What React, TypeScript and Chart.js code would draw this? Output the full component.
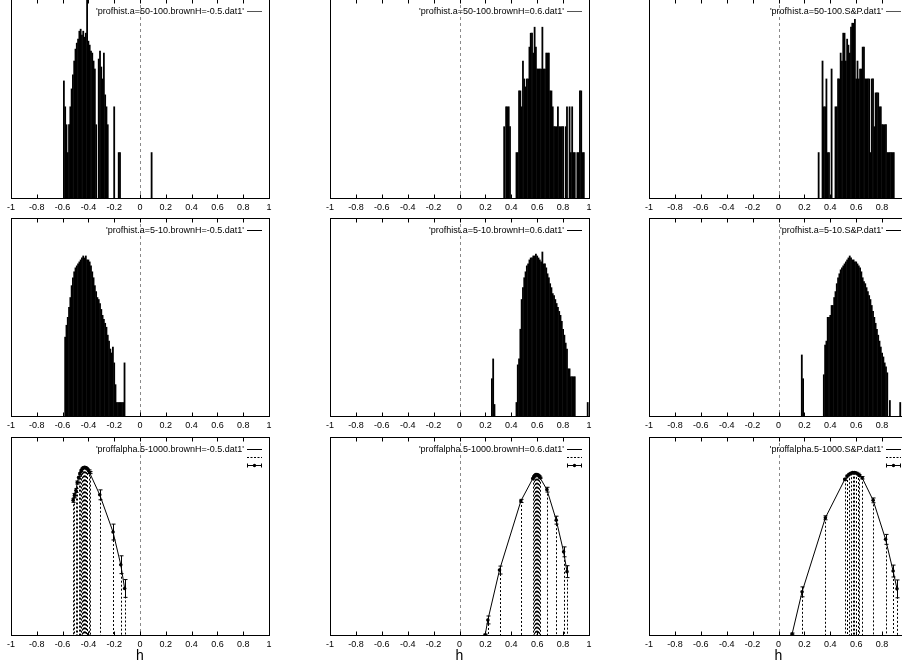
import React, { useEffect, useRef } from "react";
import { Chart, registerables } from "chart.js";

Chart.register(...registerables);

const FONT = '"Liberation Sans", Arial, Helvetica, sans-serif';

// shared x-axis ticks (h)
const hTicks = [-1, -0.8, -0.6, -0.4, -0.2, 0, 0.2, 0.4, 0.6, 0.8, 1];

// ---------- Row 1 : profhist a=50-100 ----------
const hist50NegH = [-0.59, -0.58, -0.57, -0.56, -0.55, -0.54, -0.53, -0.52, -0.51, -0.5, -0.49, -0.48, -0.47, -0.46, -0.45, -0.44, -0.43, -0.42, -0.41, -0.4, -0.39, -0.38, -0.37, -0.36, -0.35, -0.34, -0.32, -0.31, -0.3, -0.29, -0.28, -0.27, -0.26, -0.25, -0.2, -0.165, -0.155, 0.09];
const hist50NegN = [59, 46, 37, 23, 37, 46, 55, 62, 69, 75, 78, 80, 84, 85, 82, 84, 81, 83, 100, 79, 77, 74, 73, 69, 65, 37, 70, 74, 66, 60, 73, 52, 46, 37, 46, 23, 23, 23];

const hist50PosH = [0.345, 0.36, 0.37, 0.38, 0.39, 0.44, 0.45, 0.46, 0.47, 0.48, 0.49, 0.5, 0.51, 0.52, 0.53, 0.54, 0.55, 0.56, 0.57, 0.58, 0.59, 0.6, 0.61, 0.62, 0.63, 0.64, 0.65, 0.66, 0.67, 0.68, 0.69, 0.7, 0.71, 0.72, 0.73, 0.74, 0.75, 0.76, 0.77, 0.78, 0.79, 0.8, 0.82, 0.83, 0.85, 0.86, 0.87, 0.88, 0.89, 0.91, 0.92, 0.93, 0.94, 0.95, 0.96];
const hist50PosN = [36, 46, 46, 46, 36, 23, 23, 54, 54, 46, 69, 60, 56, 60, 60, 76, 83, 83, 73, 86, 76, 65, 65, 65, 65, 86, 65, 65, 73, 73, 73, 54, 54, 46, 36, 36, 36, 46, 36, 36, 36, 36, 36, 46, 46, 23, 46, 23, 23, 23, 23, 54, 54, 23, 23];

const hist50SPH = [0.31, 0.34, 0.35, 0.36, 0.37, 0.38, 0.39, 0.41, 0.44, 0.45, 0.46, 0.47, 0.48, 0.49, 0.5, 0.51, 0.52, 0.53, 0.54, 0.55, 0.56, 0.57, 0.58, 0.59, 0.6, 0.61, 0.62, 0.63, 0.64, 0.65, 0.66, 0.67, 0.68, 0.69, 0.7, 0.71, 0.72, 0.73, 0.74, 0.75, 0.76, 0.77, 0.78, 0.79, 0.8, 0.81, 0.82, 0.83, 0.84, 0.85, 0.86, 0.87, 0.88, 0.89];
const hist50SPN = [23, 69, 46, 46, 60, 23, 23, 65, 46, 46, 60, 60, 73, 69, 83, 83, 69, 80, 77, 73, 86, 88, 88, 90, 60, 69, 60, 65, 65, 76, 76, 60, 60, 60, 60, 23, 60, 60, 36, 53, 53, 53, 46, 46, 37, 37, 37, 37, 23, 23, 23, 23, 23, 23];

// ---------- Row 2 : profhist a=5-10 ----------
const hist5NegH = [-0.58, -0.57, -0.56, -0.55, -0.54, -0.53, -0.52, -0.51, -0.5, -0.49, -0.48, -0.47, -0.46, -0.45, -0.44, -0.43, -0.42, -0.41, -0.4, -0.39, -0.38, -0.37, -0.36, -0.35, -0.34, -0.33, -0.32, -0.31, -0.3, -0.29, -0.28, -0.27, -0.26, -0.25, -0.24, -0.23, -0.22, -0.21, -0.2, -0.19, -0.18, -0.17, -0.16, -0.15, -0.14, -0.13, -0.12];
const hist5NegN = [40, 46, 50, 55, 60, 66, 70, 73, 75, 76, 77, 78, 79, 80, 81, 80, 81, 79, 79, 78, 76, 73, 70, 66, 63, 60, 59, 57, 54, 51, 49, 47, 45, 41, 38, 34, 32, 35, 27, 16, 7, 7, 7, 7, 7, 7, 27];

const hist5PosH = [0.25, 0.26, 0.27, 0.44, 0.45, 0.46, 0.47, 0.48, 0.49, 0.5, 0.51, 0.52, 0.53, 0.54, 0.55, 0.56, 0.57, 0.58, 0.59, 0.6, 0.61, 0.62, 0.63, 0.64, 0.65, 0.66, 0.67, 0.68, 0.69, 0.7, 0.71, 0.72, 0.73, 0.74, 0.75, 0.76, 0.77, 0.78, 0.79, 0.8, 0.81, 0.82, 0.83, 0.84, 0.85, 0.86, 0.87, 0.88, 0.89, 0.99];
const hist5PosN = [19, 29, 6, 7, 26, 29, 44, 59, 65, 70, 73, 76, 77, 79, 80, 80, 81, 81, 82, 81, 80, 79, 78, 83, 77, 77, 75, 72, 70, 67, 65, 62, 61, 59, 57, 55, 53, 51, 48, 44, 41, 37, 34, 24, 24, 20, 20, 20, 20, 7];

const hist5SPH = [0.18, 0.19, 0.35, 0.36, 0.37, 0.38, 0.39, 0.4, 0.41, 0.42, 0.43, 0.44, 0.45, 0.46, 0.47, 0.48, 0.49, 0.5, 0.51, 0.52, 0.53, 0.54, 0.55, 0.56, 0.57, 0.58, 0.59, 0.6, 0.61, 0.62, 0.63, 0.64, 0.65, 0.66, 0.67, 0.68, 0.69, 0.7, 0.71, 0.72, 0.73, 0.74, 0.75, 0.76, 0.77, 0.78, 0.79, 0.8, 0.81, 0.82, 0.83, 0.84, 0.86, 0.94];
const hist5SPN = [31, 19, 21, 36, 38, 50, 50, 51, 56, 56, 60, 63, 67, 70, 72, 74, 75, 76, 77, 78, 79, 80, 81, 80, 79, 79, 78, 78, 77, 76, 75, 73, 70, 68, 67, 65, 63, 61, 59, 56, 53, 50, 47, 44, 41, 38, 35, 32, 30, 27, 25, 22, 8, 7];

// ---------- Row 3 : proffalpha 5-1000 ----------
const alphaNegH = [-0.518, -0.508, -0.497, -0.486, -0.476, -0.466, -0.456, -0.447, -0.439, -0.431, -0.423, -0.415, -0.407, -0.399, -0.391, -0.312, -0.209, -0.149, -0.119];
const alphaNegF = [68, 70.5, 73, 77, 79.5, 81.5, 83, 84, 84.5, 84.7, 84.6, 84.3, 83.8, 83, 82, 70.8, 52, 35.5, 23.5];
const alphaNegErr = [1, 1, 1, 0.8, 0.6, 0.5, 0.4, 0.3, 0.3, 0.3, 0.3, 0.3, 0.3, 0.4, 0.5, 2.5, 4, 4.5, 4.5];

const alphaPosH = [0.198, 0.219, 0.309, 0.474, 0.566, 0.574, 0.582, 0.59, 0.598, 0.606, 0.614, 0.622, 0.675, 0.747, 0.804, 0.83];
const alphaPosF = [0, 7.6, 32.8, 67.7, 79, 80, 80.7, 81, 81, 80.7, 80.2, 79.4, 73.4, 58, 42, 32];
const alphaPosErr = [0.5, 2, 2, 0.8, 0.3, 0.3, 0.3, 0.3, 0.3, 0.3, 0.3, 0.3, 1.2, 2, 2.5, 3];

const alphaSPH = [0.105, 0.182, 0.362, 0.512, 0.53, 0.545, 0.558, 0.572, 0.585, 0.598, 0.612, 0.625, 0.646, 0.731, 0.827, 0.885, 0.915];
const alphaSPF = [0.5, 21.8, 59.2, 78.6, 80.3, 81.2, 81.7, 82, 82, 81.8, 81.3, 80.6, 79.4, 68, 48.3, 32.3, 23.3];
const alphaSPErr = [0.5, 2.5, 1, 0.5, 0.4, 0.4, 0.4, 0.4, 0.4, 0.4, 0.4, 0.4, 0.6, 1.2, 2.5, 3, 4.5];

// key titles
const keyTitles = [
  "'profhist.a=50-100.brownH=-0.5.dat1'",
  "'profhist.a=50-100.brownH=0.6.dat1'",
  "'profhist.a=50-100.S&P.dat1'",
  "'profhist.a=5-10.brownH=-0.5.dat1'",
  "'profhist.a=5-10.brownH=0.6.dat1'",
  "'profhist.a=5-10.S&P.dat1'",
  "'proffalpha.5-1000.brownH=-0.5.dat1'",
  "'proffalpha.5-1000.brownH=0.6.dat1'",
  "'proffalpha.5-1000.S&P.dat1'",
];

// ---------- layout (page pixels) ----------
const colLeft = [11, 330, 649];
const colWidth = [258, 259, 259];
const rowTop = [-1, 218, 437];
const rowBottom = [198, 416, 635];
const PAD_L = 14;
const PAD_R = 14;
const PAD_T = 6;

type Spec = {
  kind: "bar" | "line";
  xs: number[];
  ys: number[];
  err?: number[];
  title: string;
  row: number;
  col: number;
};

const specs: Spec[] = [
  { kind: "bar", xs: hist50NegH, ys: hist50NegN, title: keyTitles[0], row: 0, col: 0 },
  { kind: "bar", xs: hist50PosH, ys: hist50PosN, title: keyTitles[1], row: 0, col: 1 },
  { kind: "bar", xs: hist50SPH, ys: hist50SPN, title: keyTitles[2], row: 0, col: 2 },
  { kind: "bar", xs: hist5NegH, ys: hist5NegN, title: keyTitles[3], row: 1, col: 0 },
  { kind: "bar", xs: hist5PosH, ys: hist5PosN, title: keyTitles[4], row: 1, col: 1 },
  { kind: "bar", xs: hist5SPH, ys: hist5SPN, title: keyTitles[5], row: 1, col: 2 },
  { kind: "line", xs: alphaNegH, ys: alphaNegF, err: alphaNegErr, title: keyTitles[6], row: 2, col: 0 },
  { kind: "line", xs: alphaPosH, ys: alphaPosF, err: alphaPosErr, title: keyTitles[7], row: 2, col: 1 },
  { kind: "line", xs: alphaSPH, ys: alphaSPF, err: alphaSPErr, title: keyTitles[8], row: 2, col: 2 },
];

function Panel({ spec }: { spec: Spec }) {
  const ref = useRef<HTMLCanvasElement | null>(null);
  const padB = spec.row === 2 ? 34 : 16;
  const plotW = colWidth[spec.col];
  const plotH = rowBottom[spec.row] - rowTop[spec.row];
  const cw = plotW + PAD_L + PAD_R;
  const ch = plotH + PAD_T + padB;
  const left = colLeft[spec.col] - PAD_L;
  const top = rowTop[spec.row] - PAD_T;

  useEffect(() => {
    const canvas = ref.current;
    if (!canvas) return;
    const sampleColor = spec.row === 0 ? "#555" : "#000";

    const decor = {
      id: "decor",
      beforeDatasetsDraw(chart: any) {
        const { ctx, chartArea: a } = chart;
        const xs = chart.scales.x;
        ctx.save();
        const zx = Math.round(xs.getPixelForValue(0)) + 0.5;
        ctx.strokeStyle = "#8a8a8a";
        ctx.lineWidth = 1;
        ctx.setLineDash([3, 3]);
        ctx.beginPath();
        ctx.moveTo(zx, a.top);
        ctx.lineTo(zx, a.bottom);
        ctx.stroke();
        if (spec.kind === "line") {
          const meta = chart.getDatasetMeta(0);
          ctx.strokeStyle = "#000";
          ctx.setLineDash([2, 2]);
          ctx.beginPath();
          meta.data.forEach((pt: any) => {
            const px = Math.round(pt.x) + 0.5;
            ctx.moveTo(px, pt.y);
            ctx.lineTo(px, a.bottom);
          });
          ctx.stroke();
        }
        ctx.restore();
      },
      afterDatasetsDraw(chart: any) {
        if (spec.kind !== "line" || !spec.err) return;
        const { ctx } = chart;
        const ys = chart.scales.y;
        const meta = chart.getDatasetMeta(0);
        ctx.save();
        ctx.strokeStyle = "#000";
        ctx.lineWidth = 1;
        ctx.setLineDash([]);
        ctx.beginPath();
        meta.data.forEach((pt: any, i: number) => {
          const e = spec.err![i];
          const v = spec.ys[i];
          const y1 = ys.getPixelForValue(v + e);
          const y2 = ys.getPixelForValue(Math.max(v - e, 0));
          const px = Math.round(pt.x) + 0.5;
          ctx.moveTo(px, y1);
          ctx.lineTo(px, y2);
          ctx.moveTo(px - 2, y1);
          ctx.lineTo(px + 2, y1);
          ctx.moveTo(px - 2, y2);
          ctx.lineTo(px + 2, y2);
        });
        ctx.stroke();
        ctx.restore();
      },
      afterDraw(chart: any) {
        const { ctx, chartArea: a } = chart;
        const xs = chart.scales.x;
        const L = Math.round(a.left) + 0.5;
        const R = Math.round(a.right) + 0.5;
        const T = Math.round(a.top) + 0.5;
        const B = Math.round(a.bottom) + 0.5;
        ctx.save();
        ctx.setLineDash([]);
        ctx.strokeStyle = "#000";
        ctx.lineWidth = 1;
        ctx.strokeRect(L, T, R - L, B - T);
        ctx.beginPath();
        hTicks.forEach((v) => {
          if (v === -1 || v === 1) return;
          const px = Math.round(xs.getPixelForValue(v)) + 0.5;
          ctx.moveTo(px, B);
          ctx.lineTo(px, B - 4);
          ctx.moveTo(px, T);
          ctx.lineTo(px, T + 4);
        });
        ctx.stroke();

        // key
        const ly = Math.round(a.top + 11.5) + 0.5;
        const s0 = Math.round(a.right) - 22;
        const s1 = Math.round(a.right) - 7;
        ctx.font = `9px ${FONT}`;
        ctx.fillStyle = "#000";
        ctx.textAlign = "right";
        ctx.textBaseline = "middle";
        ctx.fillText(spec.title, s0 - 3, ly);
        ctx.strokeStyle = sampleColor;
        ctx.beginPath();
        ctx.moveTo(s0, ly);
        ctx.lineTo(s1, ly);
        ctx.stroke();
        if (spec.kind === "line") {
          ctx.strokeStyle = "#000";
          ctx.setLineDash([2, 1.5]);
          ctx.beginPath();
          ctx.moveTo(s0, ly + 8);
          ctx.lineTo(s1, ly + 8);
          ctx.stroke();
          ctx.setLineDash([]);
          const ey = ly + 16;
          ctx.beginPath();
          ctx.moveTo(s0, ey);
          ctx.lineTo(s1, ey);
          ctx.moveTo(s0 + 0.5, ey - 2);
          ctx.lineTo(s0 + 0.5, ey + 2);
          ctx.moveTo(s1 - 0.5, ey - 2);
          ctx.lineTo(s1 - 0.5, ey + 2);
          ctx.stroke();
          ctx.beginPath();
          ctx.arc((s0 + s1) / 2, ey, 1.7, 0, Math.PI * 2);
          ctx.fill();
        }
        ctx.restore();
      },
    };

    const points = spec.xs.map((x, i) => ({ x, y: spec.ys[i] }));
    const dataset: any =
      spec.kind === "bar"
        ? {
            type: "bar",
            data: points,
            backgroundColor: "#000",
            borderWidth: 0,
            barThickness: 1.8,
            inflateAmount: 0,
          }
        : {
            type: "line",
            data: points,
            borderColor: "#000",
            borderWidth: 1,
            pointRadius: 1.8,
            pointBackgroundColor: "#000",
            pointBorderColor: "#000",
            pointBorderWidth: 0,
            tension: 0,
            fill: false,
          };

    const chart = new Chart(canvas, {
      type: spec.kind,
      data: { datasets: [dataset] },
      options: {
        animation: false,
        responsive: false,
        devicePixelRatio: 1,
        events: [],
        layout: { padding: { left: PAD_L, right: PAD_R, top: PAD_T, bottom: 0 } },
        plugins: {
          legend: { display: false },
          tooltip: { enabled: false },
          title: { display: false },
        },
        scales: {
          x: {
            type: "linear",
            min: -1,
            max: 1,
            offset: false,
            afterBuildTicks: (s: any) => {
              s.ticks = hTicks.map((v) => ({ value: v }));
            },
            afterFit: (s: any) => {
              s.height = padB;
            },
            grid: { display: false, drawTicks: false },
            border: { display: false },
            ticks: {
              autoSkip: false,
              maxRotation: 0,
              minRotation: 0,
              padding: 4,
              color: "#000",
              font: { family: FONT, size: 9 },
              callback: (v: any) => String(Math.round(Number(v) * 10) / 10),
            },
            title: {
              display: spec.row === 2,
              text: "h",
              color: "#000",
              font: { family: FONT, size: 14 },
              padding: { top: 0, bottom: 4 },
            },
          },
          y: { display: false, min: 0, max: 100 },
        },
      } as any,
      plugins: [decor],
    });
    return () => chart.destroy();
  }, []);

  return (
    <canvas
      ref={ref}
      width={cw}
      height={ch}
      style={{ position: "absolute", left, top, width: cw, height: ch }}
    />
  );
}

export default function App() {
  return (
    <div
      style={{
        position: "fixed",
        left: 0,
        top: 0,
        width: 902,
        height: 667,
        overflow: "hidden",
        background: "#fff",
      }}
    >
      {specs.map((s, i) => (
        <Panel key={i} spec={s} />
      ))}
    </div>
  );
}
